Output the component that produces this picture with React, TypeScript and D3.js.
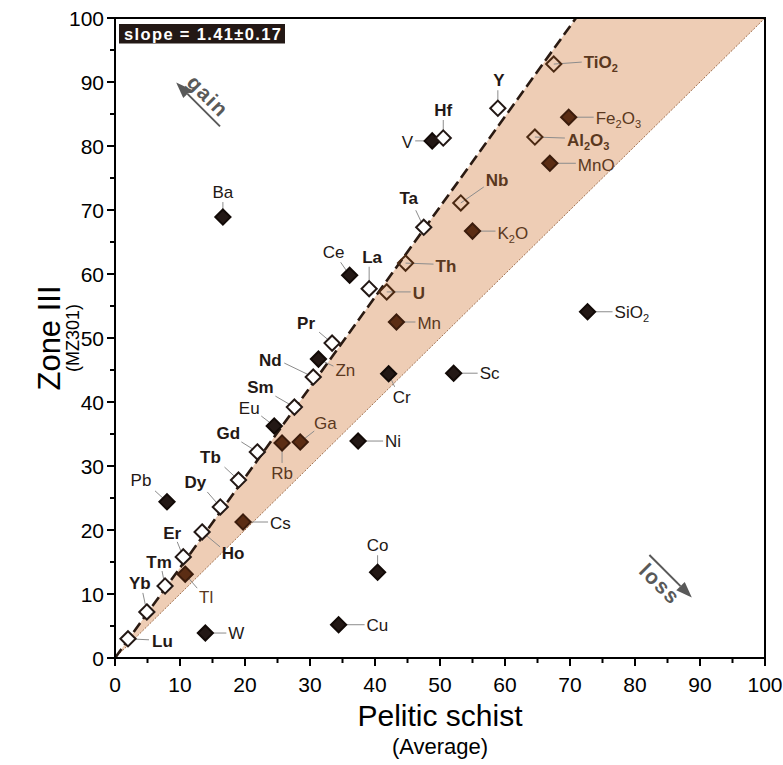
import React from "react";
import * as d3 from "d3";

// ---------- data ----------
const elements = ["Lu","Yb","Tm","Er","Tl","Ho","Dy","Cs","Pb","Tb","Gd","Eu","Rb","Ga","Sm","Nd","Zn","Pr","Ni","Cr","Sc","SiO2","Mn","U","La","Ce","Ba","Th","Ta","Nb","K2O","V","Hf","Y","TiO2","Fe2O3","Al2O3","MnO","Co","Cu","W"];
const pelitic = [2.0,4.9,7.7,10.5,10.8,13.4,16.2,19.7,8.0,19.0,21.9,24.5,25.7,28.5,27.6,30.5,31.3,33.4,37.4,42.1,52.1,72.7,43.3,41.8,39.1,36.1,16.6,44.7,47.5,53.2,55.0,48.8,50.5,58.9,67.5,69.8,64.6,66.9,40.4,34.4,13.9];
const zoneIII = [3.0,7.2,11.25,15.8,13.1,19.7,23.6,21.25,24.4,27.8,32.2,36.25,33.6,33.75,39.2,43.9,46.7,49.2,33.9,44.4,44.5,54.1,52.5,57.2,57.7,59.8,68.9,61.7,67.3,71.1,66.7,80.8,81.25,85.9,92.8,84.5,81.4,77.3,13.4,5.2,3.9];
// open = immobile (white), openBrown = open in band, black = filled, brown = filled in band
const kinds = ["open","open","open","open","brown","open","open","brown","black","open","open","black","brown","brown","open","open","black","open","black","black","black","black","brown","openBrown","open","black","black","openBrown","open","openBrown","brown","black","open","open","openBrown","brown","openBrown","brown","black","black","black"];
const xTicks = [0,10,20,30,40,50,60,70,80,90,100];
const yTicks = [0,10,20,30,40,50,60,70,80,90,100];
const minorTicks = [5,15,25,35,45,55,65,75,85,95];
const slope = 1.41;
const slopeText = "slope = 1.41\u00b10.17";

// label layout: anchor, dx, dy (text), ldx, ldy (leader end) in px
const labelLayout: Record<string, [string, number, number, number, number]> = {
  Lu: ["start", 24, 2, 21, 1],
  Yb: ["middle", -7, -29, -4, -19],
  Tm: ["middle", -6, -24, -3, -15],
  Er: ["middle", -11, -24, -6, -15],
  Tl: ["middle", 21, 23, 12, 14],
  Ho: ["middle", 31, 21, 18, 15],
  Dy: ["middle", -25, -25, -13, -15],
  Cs: ["start", 27, 1, 25, 0],
  Pb: ["middle", -26, -22, -12, -11],
  Tb: ["middle", -28, -23, -14, -13],
  Gd: ["middle", -29, -19, -16, -10],
  Eu: ["middle", -25, -18, -13, -10],
  Rb: ["middle", 0, 30, 0, 20],
  Ga: ["middle", 25, -19, 14, -11],
  Sm: ["middle", -34, -20, -19, -11],
  Nd: ["middle", -43, -17, -29, -14],
  Zn: ["start", 17, 11, 15, 7],
  Pr: ["middle", -26, -20, -13, -11],
  Ni: ["start", 27, 0, 25, 0],
  Cr: ["middle", 13, 23, 6, 13],
  Sc: ["start", 26, 0, 24, 0],
  SiO2: ["start", 27, 0, 25, 0],
  Mn: ["start", 21, 1, 19, 0],
  U: ["start", 26, 1, 24, 0],
  La: ["middle", 3, -32, 0, -22],
  Ce: ["middle", -16, -23, -9, -13],
  Ba: ["middle", 0, -25, 0, -15],
  Th: ["start", 30, 3, 28, 1],
  Ta: ["middle", -15, -29, -8, -17],
  Nb: ["start", 25, -23, 23, -16],
  K2O: ["start", 25, 2, 23, 0],
  V: ["end", -19, 1, -17, 0],
  Hf: ["middle", 0, -28, 0, -18],
  Y: ["middle", 1, -28, 0, -18],
  TiO2: ["start", 30, -2, 28, -2],
  Fe2O3: ["start", 27, 1, 25, 0],
  Al2O3: ["start", 32, 3, 30, 1],
  MnO: ["start", 28, 2, 26, 0],
  Co: ["middle", 0, -27, 0, -17],
  Cu: ["start", 28, 0, 26, 0],
  W: ["start", 23, 0, 21, 0],
};

// ---------- styles ----------
const W = 783, H = 765;
const left = 115, right = 765, top = 18, bottom = 658;
const FONT = "'Liberation Sans', Arial, sans-serif";
const DARK = "#231815";
const BROWN_FILL = "#5b2d14";
const BROWN_STROKE = "#3b1c0c";
const BROWN_TEXT = "#5a3820";
const BAND = "#eecdb5";
const GRAY = "#595959";

function renderLabel(name: string) {
  const parts = name.match(/[A-Za-z]+|\d+/g) || [name];
  let prevSub = false;
  return parts.map((p, i) => {
    const isSub = /^\d+$/.test(p);
    let dy: number | undefined = undefined;
    if (isSub) dy = 4;
    else if (prevSub) dy = -4;
    prevSub = isSub;
    return (
      <tspan key={i} dy={dy} fontSize={isSub ? 11 : undefined}>{p}</tspan>
    );
  });
}

export default function App() {
  const x = d3.scaleLinear().domain([0, 100]).range([left, right]);
  const y = d3.scaleLinear().domain([0, 100]).range([bottom, top]);
  const band = [[0, 0], [100 / slope, 100], [100, 100]];
  const bandPath = d3.line()(band.map(([a, b]) => [x(a), y(b)]) as any) + "Z";
  const r = 7.6;
  const diamond = `M0,${-r}L${r},0L0,${r}L${-r},0Z`;

  const pts = elements.map((e, i) => ({ e, px: x(pelitic[i]), py: y(zoneIII[i]), k: kinds[i] }));

  return (
    <svg width={W} height={H} style={{ position: "absolute", left: 0, top: 0, background: "#fff" }} fontFamily={FONT}>
      <rect x={0} y={0} width={W} height={H} fill="#fff" />
      {/* band */}
      <path d={bandPath} fill={BAND} />
      <line x1={x(0)} y1={y(0)} x2={x(100)} y2={y(100)} stroke="#a0704f" strokeWidth={1} strokeDasharray="2 1.5" />
      <line x1={x(0)} y1={y(0)} x2={x(100 / slope)} y2={y(100)} stroke="#2a1a12" strokeWidth={2.6} strokeDasharray="11 5" />

      {/* slope box */}
      <rect x={119} y={24} width={166} height={19.5} fill={DARK} />
      <text x={124} y={40} fill="#fff" fontWeight="bold" fontSize={16.5} textLength={157} lengthAdjust="spacing">{slopeText}</text>

      {/* gain / loss arrows */}
      <g transform="translate(208,96) rotate(45)" fill={GRAY}>
        <text x={0} y={0} dy="0.35em" textAnchor="middle" fontWeight="bold" fontSize={21} letterSpacing={1.5}>gain</text>
        <line x1={-16} y1={13} x2={30} y2={13} stroke={GRAY} strokeWidth={2} />
        <path d="M-32,13 L-16,7 L-16,19 Z" />
      </g>
      <g transform="translate(660,584) rotate(45)" fill={GRAY}>
        <text x={0} y={0} dy="0.35em" textAnchor="middle" fontWeight="bold" fontSize={21} letterSpacing={1.5}>loss</text>
        <line x1={-28} y1={-13} x2={16} y2={-13} stroke={GRAY} strokeWidth={2} />
        <path d="M32,-13 L16,-19 L16,-7 Z" />
      </g>

      {/* leaders */}
      {pts.map((p) => {
        const L = labelLayout[p.e];
        return <line key={"l" + p.e} x1={p.px} y1={p.py} x2={p.px + L[3]} y2={p.py + L[4]} stroke="#8c8c8c" strokeWidth={1} />;
      })}

      {/* markers */}
      {pts.map((p) => {
        let fill = "#fff", stroke = DARK;
        if (p.k === "black") { fill = DARK; stroke = "#120a07"; }
        else if (p.k === "brown") { fill = BROWN_FILL; stroke = BROWN_STROKE; }
        else if (p.k === "openBrown") { fill = "none"; stroke = "#4b2912"; }
        return <path key={"m" + p.e} d={diamond} transform={`translate(${p.px},${p.py})`} fill={fill} stroke={stroke} strokeWidth={2} />;
      })}

      {/* labels */}
      {pts.map((p) => {
        const L = labelLayout[p.e];
        const bold = p.k === "open" || p.k === "openBrown";
        const brown = p.k === "openBrown" || (p.k === "brown" && p.e !== "Cs") || p.e === "Zn";
        return (
          <text key={"t" + p.e} x={p.px + L[1]} y={p.py + L[2]} dy="0.36em" textAnchor={L[0] as any}
            fontSize={17} fontWeight={bold ? "bold" : "normal"} fill={brown ? BROWN_TEXT : DARK}>
            {renderLabel(p.e)}
          </text>
        );
      })}

      {/* frame */}
      <rect x={left} y={top} width={right - left} height={bottom - top} fill="none" stroke="#000" strokeWidth={2} />

      {/* x axis ticks */}
      {xTicks.map((t) => (
        <g key={"xt" + t}>
          <line x1={x(t)} x2={x(t)} y1={bottom} y2={bottom + 8} stroke="#000" strokeWidth={2} />
          <text x={x(t)} y={692} textAnchor="middle" fontSize={21} fill="#000">{t}</text>
        </g>
      ))}
      {minorTicks.map((t) => (
        <line key={"xm" + t} x1={x(t)} x2={x(t)} y1={bottom} y2={bottom + 5} stroke="#000" strokeWidth={2} />
      ))}
      {yTicks.map((t) => (
        <g key={"yt" + t}>
          <line x1={left} x2={left - 8} y1={y(t)} y2={y(t)} stroke="#000" strokeWidth={2} />
          <text x={104} y={y(t)} dy="0.36em" textAnchor="end" fontSize={21} fill="#000">{t}</text>
        </g>
      ))}
      {minorTicks.map((t) => (
        <line key={"ym" + t} x1={left} x2={left - 5} y1={y(t)} y2={y(t)} stroke="#000" strokeWidth={2} />
      ))}

      {/* axis titles */}
      <text x={(left + right) / 2} y={726} textAnchor="middle" fontSize={30} fill="#000">Pelitic schist</text>
      <text x={(left + right) / 2} y={754} textAnchor="middle" fontSize={22} fill="#000">(Average)</text>
      <text transform={`translate(60,${(top + bottom) / 2}) rotate(-90)`} textAnchor="middle" fontSize={31} fill="#000">Zone III</text>
      <text transform={`translate(79,${(top + bottom) / 2}) rotate(-90)`} textAnchor="middle" fontSize={18} fill="#000">(MZ301)</text>
    </svg>
  );
}
